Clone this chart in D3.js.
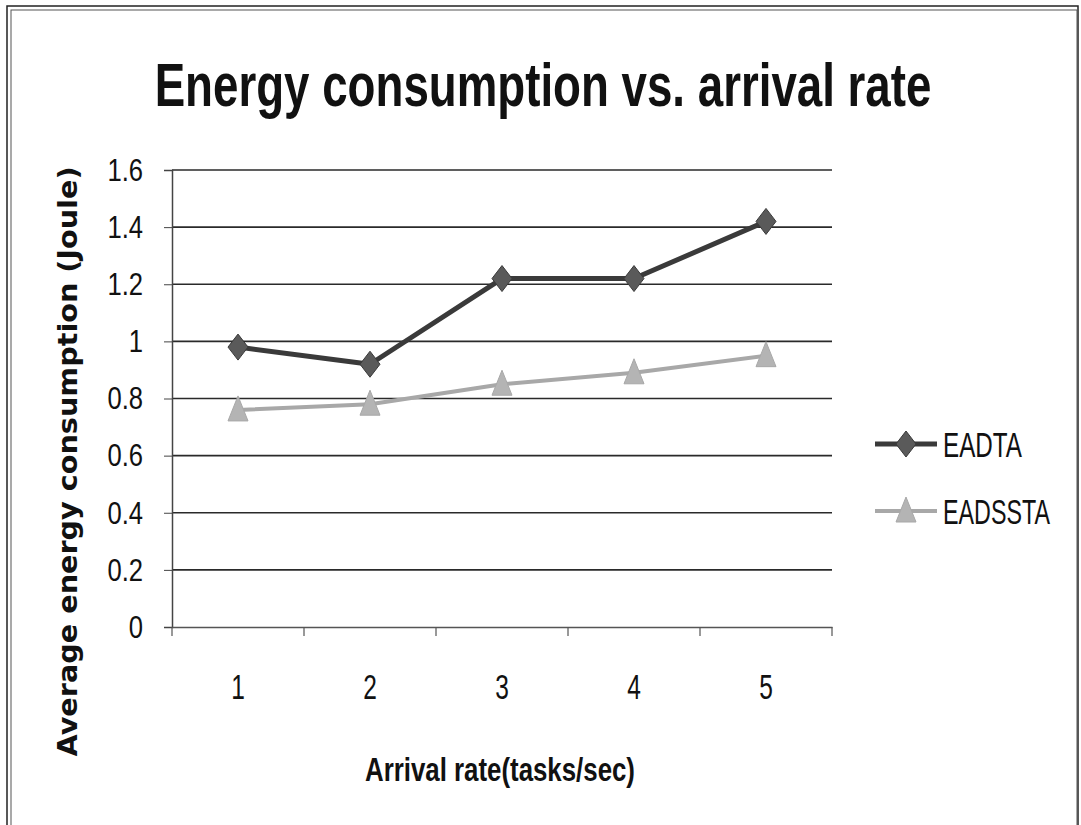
<!DOCTYPE html>
<html>
<head>
<meta charset="utf-8">
<script src="https://cdn.jsdelivr.net/npm/d3@7"></script>
<style>
  body { margin: 0; background: #fff; }
</style>
</head>
<body>
<div id="container"></div>
<script>
const width = 1081;
const height = 825;

// chart values
const categories = ["1", "2", "3", "4", "5"];
const eadta = [0.98, 0.92, 1.22, 1.22, 1.42];
const eadssta = [0.76, 0.78, 0.85, 0.89, 0.95];
const yTicks = [0, 0.2, 0.4, 0.6, 0.8, 1, 1.2, 1.4, 1.6];
const seriesNames = ["EADTA", "EADSSTA"];

const margin = {left: 172, right: 249, top: 170, bottom: 198};

const svg = d3.select("div#container")
    .append("svg")
    .attr("width", width)
    .attr("height", height)
    .style("background", "#fff");

// squeeze a text horizontally (the scanned chart uses a condensed face)
squeeze = (sel, at, target) => {
    const w = sel.node().getComputedTextLength();
    sel.attr("transform", `${at} scale(${target / w},1)`);
};

// outer frame (double line)
svg.append("rect")
    .attr("x", 7).attr("y", 6)
    .attr("width", 1071).attr("height", 840)
    .attr("fill", "none").attr("stroke", "#222").attr("stroke-width", 1.5);
svg.append("rect")
    .attr("x", 11).attr("y", 10)
    .attr("width", 1066).attr("height", 840)
    .attr("fill", "none").attr("stroke", "#555").attr("stroke-width", 1);

x = d3.scaleBand()
    .domain(categories)
    .range([margin.left, width - margin.right]);

y = d3.scaleLinear()
    .domain([0, 1.6])
    .range([height - margin.bottom, margin.top]);

// title
const title = svg.append("text")
    .attr("text-anchor", "middle")
    .style("font", "bold 62px 'Liberation Sans', sans-serif")
    .attr("fill", "#111")
    .text("Energy consumption vs. arrival rate");
squeeze(title, "translate(543,106)", 777);

// gridlines
svg.append("g")
    .selectAll("line")
    .data(yTicks.filter(d => d > 0))
    .join("line")
    .attr("x1", margin.left)
    .attr("x2", width - margin.right)
    .attr("y1", d => y(d))
    .attr("y2", d => y(d))
    .attr("stroke", "#2a2a2a")
    .attr("stroke-width", 1.7);

// y axis
const yAxis = svg.append("g")
    .attr("transform", `translate(${margin.left},0)`)
    .call(d3.axisLeft(y).tickValues(yTicks).tickSize(8).tickPadding(21)
        .tickFormat(d => String(+d.toFixed(1))));
yAxis.select(".domain").attr("stroke", "#444").attr("stroke-width", 1.5);
yAxis.selectAll(".tick line").attr("stroke", "#444");
yAxis.selectAll("text")
    .attr("fill", "#111")
    .style("font", "32px 'Liberation Sans', sans-serif")
    .each(function() {
        const t = d3.select(this);
        t.attr("textLength", this.getComputedTextLength() * 0.8)
         .attr("lengthAdjust", "spacingAndGlyphs");
    });

// x axis
const xAxis = svg.append("g")
    .attr("transform", `translate(0,${y(0)})`)
    .call(d3.axisBottom(x).tickSize(0).tickPadding(47));
xAxis.select(".domain").attr("stroke", "#555").attr("stroke-width", 1.5);
xAxis.selectAll("text")
    .attr("fill", "#111")
    .style("font", "35px 'Liberation Sans', sans-serif")
    .each(function() {
        const t = d3.select(this);
        t.attr("textLength", this.getComputedTextLength() * 0.7)
         .attr("lengthAdjust", "spacingAndGlyphs");
    });
// ticks between categories
svg.append("g")
    .selectAll("line")
    .data(categories.concat(["end"]))
    .join("line")
    .attr("x1", (d, i) => i < categories.length ? x(d) : x.range()[1])
    .attr("x2", (d, i) => i < categories.length ? x(d) : x.range()[1])
    .attr("y1", y(0))
    .attr("y2", y(0) + 9)
    .attr("stroke", "#555")
    .attr("stroke-width", 1.2);

// axis titles
const yTitle = svg.append("text")
    .attr("text-anchor", "middle")
    .style("font", "bold 26px 'DejaVu Sans', sans-serif")
    .attr("fill", "#111")
    .text("Average energy consumption (Joule)");
squeeze(yTitle, `translate(77,${y(0.8) + 63}) rotate(-90)`, 590);

const xTitle = svg.append("text")
    .attr("text-anchor", "middle")
    .style("font", "bold 33px 'Liberation Sans', sans-serif")
    .attr("fill", "#111")
    .text("Arrival rate(tasks/sec)");
squeeze(xTitle, "translate(500,781)", 270);

// markers
diamond = (cx, cy) => `M${cx},${cy - 13}L${cx + 10},${cy}L${cx},${cy + 13}L${cx - 10},${cy}Z`;
triangle = (cx, cy) => `M${cx},${cy - 14}L${cx + 10},${cy + 11}L${cx - 10},${cy + 11}Z`;

const series = [
    {name: seriesNames[0], values: eadta, stroke: "#3a3a3a", fill: "#5a5a5a", width: 5, marker: diamond, textW: 79},
    {name: seriesNames[1], values: eadssta, stroke: "#a8a8a8", fill: "#b4b4b4", width: 4, marker: triangle, textW: 107}
];

const line = d3.line()
    .x((d, i) => x(categories[i]) + x.bandwidth() / 2)
    .y(d => y(d));

series.forEach(s => {
    svg.append("path")
        .datum(s.values)
        .attr("d", line)
        .attr("fill", "none")
        .attr("stroke", s.stroke)
        .attr("stroke-width", s.width)
        .attr("stroke-linejoin", "round");

    svg.append("g")
        .selectAll("path")
        .data(s.values)
        .join("path")
        .attr("d", (d, i) => s.marker(x(categories[i]) + x.bandwidth() / 2, y(d)))
        .attr("fill", s.fill)
        .attr("stroke", s.stroke)
        .attr("stroke-width", 1);
});

// legend
const legend = svg.append("g")
    .selectAll("g")
    .data(series)
    .join("g")
    .attr("transform", (d, i) => `translate(875,${444 + i * 67})`);

legend.append("line")
    .attr("x1", 0).attr("x2", 62)
    .attr("stroke", d => d.stroke)
    .attr("stroke-width", d => d.width);

legend.append("path")
    .attr("d", d => d.marker(31, 0))
    .attr("fill", d => d.fill)
    .attr("stroke", d => d.stroke);

legend.append("text")
    .style("font", "35px 'Liberation Sans', sans-serif")
    .attr("fill", "#111")
    .text(d => d.name)
    .each(function(d) {
        squeeze(d3.select(this), "translate(68,13)", d.textW);
    });
</script>
</body>
</html>
